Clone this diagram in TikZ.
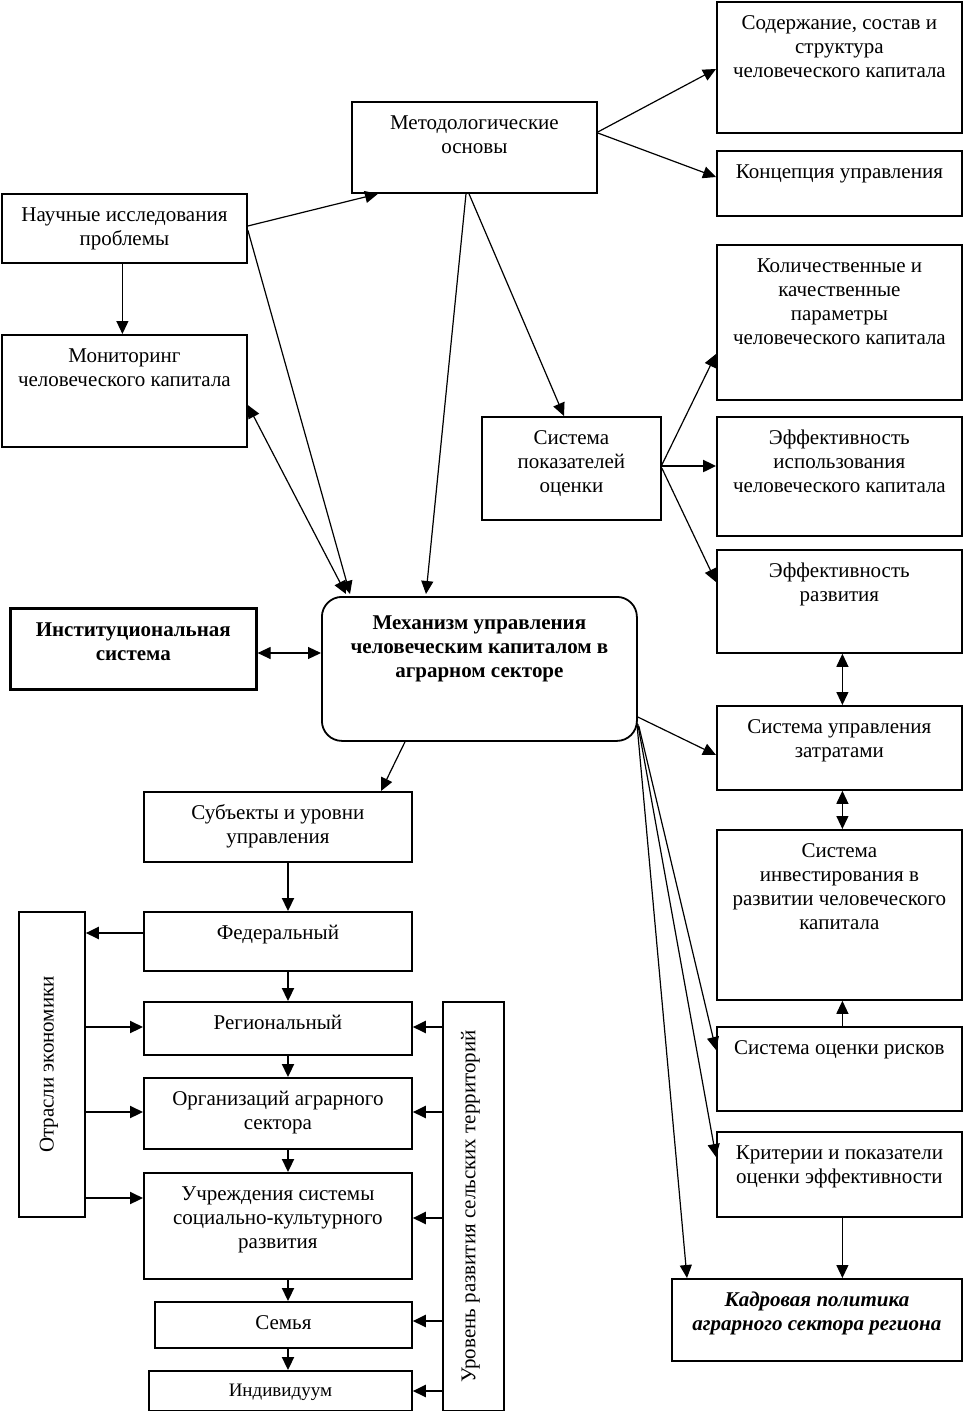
\documentclass[tikz,border=0pt]{standalone}
\usepackage{fontspec}
\setmainfont{Liberation Serif}
\usetikzlibrary{arrows.meta}
\newcommand\bxt[4][11pt]{\parbox[c][#3][t]{#2}{\centering\vspace*{#1}\strut #4}}
\begin{document}
\begin{tikzpicture}[x=1pt,y=-1pt,
  box/.style={draw, line width=1.8pt, inner sep=0pt, anchor=north west, font=\fontsize{21}{24}\selectfont},
  tip/.style={Triangle[length=13pt,width=12pt]},
  conn/.style={line width=1.2pt, -{Triangle[length=13pt,width=12pt]}},
  conn2/.style={line width=1.2pt, {Triangle[length=13pt,width=12pt]}-{Triangle[length=13pt,width=12pt]}},
  thick conn/.style={line width=2.2pt, -{Triangle[length=13pt,width=12pt]}}]
\useasboundingbox (0,0) rectangle (962,1411);
% top area
\node[box] (met) at (351,101) {\bxt{245pt}{91pt}{Методологические\\основы}};
\node[box] (sod) at (716,1) {\bxt{245pt}{131pt}{Содержание, состав и\\структура\\человеческого капитала}};
\node[box] (kon) at (716,150) {\bxt{245pt}{65pt}{Концепция управления}};
\node[box] (nau) at (1,193) {\bxt{245pt}{69pt}{Научные исследования\\проблемы}};
\node[box] (mon) at (1,334) {\bxt{245pt}{112pt}{Мониторинг\\человеческого капитала}};
\node[box] (kol) at (716,244) {\bxt{245pt}{155pt}{Количественные и\\качественные\\параметры\\человеческого капитала}};
\node[box] (sys) at (481,416) {\bxt{179pt}{103pt}{Система\\показателей\\оценки}};
\node[box] (efi) at (716,416) {\bxt{245pt}{119pt}{Эффективность\\использования\\человеческого капитала}};
\node[box] (efr) at (716,549) {\bxt{245pt}{103pt}{Эффективность\\развития}};
\node[box, line width=2.6pt] (ins) at (9,607) {\bxt{246pt}{81pt}{\bfseries Институциональная\\система}};
\node[box, rounded corners=20pt] (mex) at (321,596) {\bxt[16pt]{315pt}{144pt}{\bfseries Механизм управления\\человеческим капиталом в\\аграрном секторе}};
\node[box] (szt) at (716,705) {\bxt{245pt}{84pt}{Система управления\\затратами}};
\node[box] (sin) at (716,829) {\bxt{245pt}{170pt}{Система\\инвестирования в\\развитии человеческого\\капитала}};
\node[box] (sub) at (143,791) {\bxt{268pt}{70pt}{Субъекты и уровни\\управления}};
\node[box] (sor) at (716,1026) {\bxt{245pt}{84pt}{Система оценки рисков}};
\node[box] (kri) at (716,1131) {\bxt{245pt}{85pt}{Критерии и показатели\\оценки эффективности}};
\node[box] (kad) at (671,1278) {\bxt{290pt}{82pt}{\bfseries\itshape Кадровая политика\\аграрного сектора региона}};
% lower left
\node[box] (otr) at (18,911) {\parbox[c][305pt][c]{66pt}{\centering\hspace*{-6pt}\rotatebox{90}{Отрасли экономики}}};
\node[box] (fed) at (143,911) {\bxt{268pt}{59pt}{Федеральный}};
\node[box] (reg) at (143,1001) {\bxt{268pt}{53pt}{Региональный}};
\node[box] (org) at (143,1077) {\bxt{268pt}{71pt}{Организаций аграрного\\сектора}};
\node[box] (uch) at (143,1172) {\bxt{268pt}{106pt}{Учреждения системы\\социально-культурного\\развития}};
\node[box] (sem) at (154,1301) {\bxt{257pt}{46pt}{Семья}};
\node[box] (ind) at (148,1370) {\bxt[9pt]{263pt}{40pt}{\fontsize{19}{22}\selectfont\strut Индивидуум}};
\node[box] (urv) at (442,1001) {\parbox[c][409pt][c]{61pt}{\centering\hspace*{-6pt}\rotatebox{90}{Уровень развития сельских территорий}}};
\coordinate (spine) at (288,0);
% connectors top
\draw[conn] ([yshift=-33pt]nau.north east) -- ([xshift=27pt]met.south west);
\draw[conn] ([yshift=-37pt]nau.north east) -- ([xshift=29pt,yshift=2pt]mex.north west);
\draw[conn2] ([yshift=-71pt]mon.north east) -- ([xshift=25pt,yshift=2pt]mex.north west);
\draw[conn] ([xshift=-2pt]nau.south) -- ([xshift=-2pt]nau.south |- mon.north);
\draw[conn] ([xshift=115pt]met.south west) -- ([xshift=105pt,yshift=2pt]mex.north west);
\draw[conn] ([xshift=118pt]met.south west) -- ([xshift=83pt]sys.north west);
\draw[conn] ([yshift=-31pt]met.north east) -- ([yshift=-68pt]sod.north west);
\draw[conn] ([yshift=-32pt]met.north east) -- ([yshift=-27pt]kon.north west);
\draw[conn] ([yshift=-49pt]sys.north east) -- ([yshift=-110pt]kol.north west);
\draw[line width=2.4pt, -{Triangle[length=13pt,width=12pt]}] ([yshift=-50pt]sys.north east) -- ([yshift=-50pt]efi.north west);
\draw[conn] ([yshift=-52pt]sys.north east) -- ([yshift=-33pt]efr.north west);
\draw[conn2] ([yshift=-46pt]ins.north east) -- ([yshift=-57pt]mex.north west);
\draw[conn] ([xshift=84pt]mex.south west) -- ([xshift=238pt]sub.north west);
\draw[conn] ([yshift=-121pt]mex.north east) -- ([yshift=-50pt]szt.north west);
\draw[conn] ([xshift=1pt,yshift=-130pt]mex.north east) -- ([yshift=-24pt]sor.north west);
\draw[conn] ([xshift=0pt,yshift=-128pt]mex.north east) -- ([yshift=-26pt]kri.north west);
\draw[conn] ([xshift=-1pt,yshift=-126pt]mex.north east) -- ([xshift=16pt]kad.north west);
\draw[conn2] ([xshift=3pt]efr.south) -- ([xshift=3pt]szt.north);
\draw[conn2] ([xshift=3pt]szt.south) -- ([xshift=3pt]sin.north);
\draw[conn] ([xshift=3pt]sor.north) -- ([xshift=3pt]sin.south);
\draw[conn] ([xshift=3pt]kri.south) -- ([xshift=3pt]kri.south |- kad.north);
% lower
\draw[thick conn] (sub.south -| spine) -- (fed.north -| spine);
\draw[thick conn] (fed.south -| spine) -- (reg.north -| spine);
\draw[thick conn] (reg.south -| spine) -- (org.north -| spine);
\draw[thick conn] (org.south -| spine) -- (uch.north -| spine);
\draw[thick conn] (uch.south -| spine) -- (sem.north -| spine);
\draw[thick conn] (sem.south -| spine) -- (ind.north -| spine);
\coordinate (f1) at ([yshift=-22pt]fed.north west);
\draw[thick conn] (f1) -- (f1 -| otr.east);
\coordinate (r1) at ([yshift=-26pt]reg.north west);
\draw[thick conn] (r1 -| otr.east) -- (r1);
\coordinate (o1) at ([yshift=-35pt]org.north west);
\draw[thick conn] (o1 -| otr.east) -- (o1);
\coordinate (u1) at ([yshift=-26pt]uch.north west);
\draw[thick conn] (u1 -| otr.east) -- (u1);
\coordinate (r2) at ([yshift=-26pt]reg.north east);
\draw[thick conn] (r2 -| urv.west) -- (r2);
\coordinate (o2) at ([yshift=-35pt]org.north east);
\draw[thick conn] (o2 -| urv.west) -- (o2);
\coordinate (u2) at ([yshift=-46pt]uch.north east);
\draw[thick conn] (u2 -| urv.west) -- (u2);
\coordinate (s2) at ([yshift=-20pt]sem.north east);
\draw[thick conn] (s2 -| urv.west) -- (s2);
\coordinate (i2) at ([yshift=-21pt]ind.north east);
\draw[thick conn] (i2 -| urv.west) -- (i2);
\end{tikzpicture}
\end{document}
